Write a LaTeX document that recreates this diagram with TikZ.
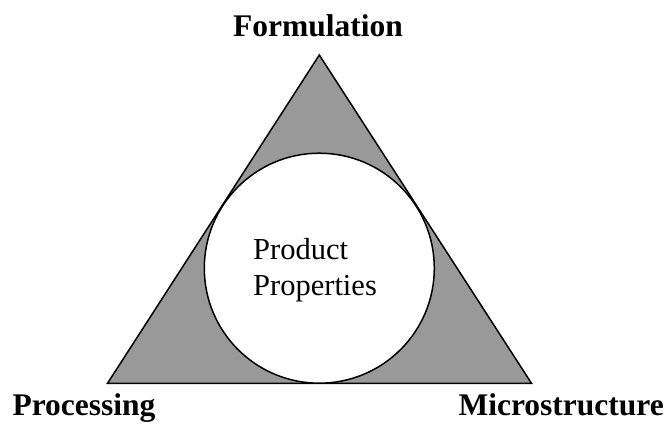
\documentclass[tikz,border=0pt]{standalone}
\usepackage{fontspec}
\setmainfont{Liberation Serif}
\begin{document}
\begin{tikzpicture}[x=1pt,y=-1pt,
  corner/.style={font=\fontsize{31.5}{36}\selectfont\bfseries, anchor=base, inner sep=0pt},
  center/.style={font=\fontsize{30.5}{36}\selectfont, anchor=base west, inner sep=0pt}]
\useasboundingbox (0,0) rectangle (667,426);
\coordinate (A) at (319.3,55);
\coordinate (B) at (107.5,383.3);
\coordinate (C) at (531.5,383.3);
\coordinate (O) at (319.3,268.2);
\draw[line width=1.5pt, fill={rgb,255:red,153;green,153;blue,153}, line join=miter] (A) -- (B) -- (C) -- cycle;
\draw[line width=1.5pt, fill=white] (O) circle[radius=115];
\node[corner] (f) at (318,36) {Formulation};
\node[corner] (p) at (84,415) {Processing};
\node[corner, anchor=base east] (m) at (664,415) {Microstructure};
\node[center] (t1) at (253,259) {Product};
\node[center] (t2) at (253,295) {Properties};
\end{tikzpicture}
\end{document}
